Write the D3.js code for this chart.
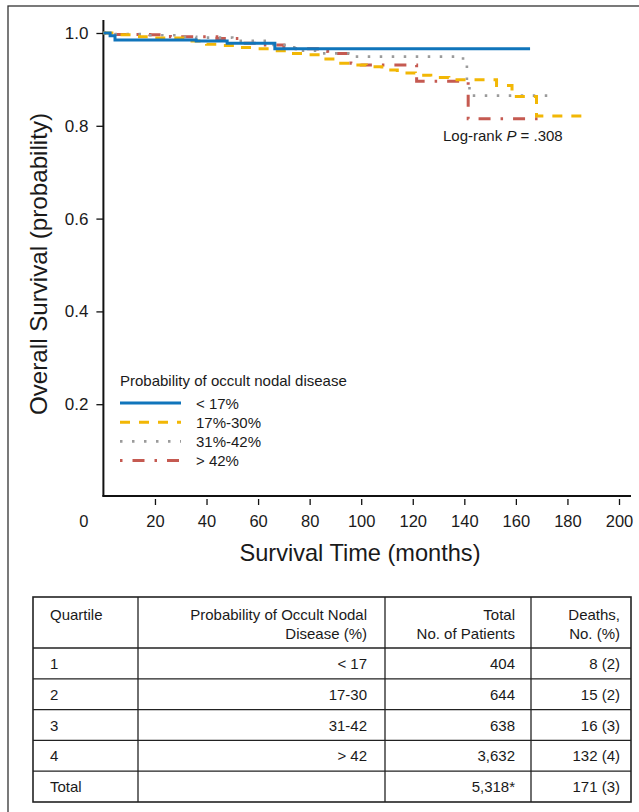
<!DOCTYPE html>
<html>
<head>
<meta charset="utf-8">
<script src="https://d3js.org/d3.v7.min.js"></script>
<style>
  body { margin: 0; background: #fff; }
  svg text { font-family: "Liberation Sans", Arial, sans-serif; fill: #1a1a1a; }
  .narrow { font-family: "Liberation Sans Narrow", "Liberation Sans", sans-serif !important; }
</style>
</head>
<body>
<div id="chart"></div>
<script>
"use strict";

// Kaplan-Meier steps (months, survival probability)
var lt17Time = [0, 2.6, 4.5, 36, 48, 66.5, 165.5];
var lt17Surv = [1.0, 0.994, 0.985, 0.983, 0.978, 0.966, 0.966];

var q17to30Time = [0, 6, 14, 20, 33, 40, 46, 53, 60, 66, 73, 79, 85, 90, 97, 102, 108, 114, 121, 127, 134, 152.5, 158.5, 168, 188];
var q17to30Surv = [1.0, 0.996, 0.992, 0.989, 0.983, 0.976, 0.973, 0.969, 0.966, 0.962, 0.956, 0.953, 0.944, 0.935, 0.931, 0.927, 0.920, 0.914, 0.909, 0.904, 0.899, 0.887, 0.863, 0.821, 0.821];

var q31to42Time = [0, 2, 16, 31, 36, 50, 66, 73, 76, 84, 95, 139.5, 141, 142, 174.5];
var q31to42Surv = [1.0, 0.998, 0.995, 0.992, 0.990, 0.983, 0.974, 0.969, 0.962, 0.956, 0.949, 0.930, 0.885, 0.865, 0.865];

var gt42Time = [0, 4, 18, 26, 44, 55, 62, 70, 83, 87, 96, 100, 121.5, 141.5, 169.5];
var gt42Surv = [1.0, 0.997, 0.996, 0.992, 0.988, 0.978, 0.974, 0.966, 0.960, 0.956, 0.935, 0.931, 0.896, 0.815, 0.815];

var seriesNames = ["< 17%", "17%-30%", "31%-42%", "> 42%"];
var xTicks = [0, 20, 40, 60, 80, 100, 120, 140, 160, 180, 200];
var yTicks = [0.2, 0.4, 0.6, 0.8, 1.0];

// table
var tableHeader = [["Quartile"], ["Probability of Occult Nodal", "Disease (%)"], ["Total", "No. of Patients"], ["Deaths,", "No. (%)"]];
var quartiles = ["1", "2", "3", "4", "Total"];
var probRange = ["< 17", "17-30", "31-42", "> 42", ""];
var totalPatients = ["404", "644", "638", "3,632", "5,318*"];
var deaths = ["8 (2)", "15 (2)", "16 (3)", "132 (4)", "171 (3)"];

var W = 639, H = 812;
var svg = d3.select("#chart").append("svg").attr("width", W).attr("height", H);

// outer frame
svg.append("rect").attr("x", 8).attr("y", 6).attr("width", 660).attr("height", 830)
  .attr("fill", "none").attr("stroke", "#333").attr("stroke-width", 1.3);

var x = d3.scaleLinear().domain([0, 200]).range([103.4, 619]);
var y = d3.scaleLinear().domain([0, 1]).range([497, 33]);

var colorSet = d3.scaleOrdinal().domain(seriesNames)
  .range(["#1075bb", "#f2b705", "#9b9b9b", "#c55a51"]);
var dashSet = { "< 17%": null, "17%-30%": "10,9", "31%-42%": "2.5,9.5", "> 42%": "2.5,10,12,10" };
var widthSet = { "< 17%": 3, "17%-30%": 3, "31%-42%": 2.6, "> 42%": 3 };

// y axis
var yAxis = svg.append("g").attr("transform", "translate(" + x(0) + ",0)")
  .call(d3.axisLeft(y).tickValues(yTicks).tickFormat(d3.format(".1f")).tickSize(7).tickPadding(8));
yAxis.select(".domain").remove();
yAxis.selectAll(".tick line").attr("stroke", "#111").attr("stroke-width", 1.3);
yAxis.selectAll(".tick text").style("font-size", "17px").attr("fill", "#1a1a1a");
svg.append("line").attr("x1", x(0)).attr("x2", x(0)).attr("y1", 20).attr("y2", 496.5)
  .attr("stroke", "#111").attr("stroke-width", 2);

// x axis
var xAxis = svg.append("g").attr("transform", "translate(0,499)")
  .call(d3.axisBottom(x).tickValues(xTicks).tickFormat(d3.format("d")).tickSize(6).tickPadding(10));
xAxis.select(".domain").remove();
xAxis.selectAll(".tick line").attr("stroke", "#111").attr("stroke-width", 1.3)
  .filter(function(d) { return d === 0; }).remove();
xAxis.selectAll(".tick text").style("font-size", "16.5px").attr("fill", "#1a1a1a")
  .filter(function(d) { return d === 0; }).attr("dx", -20);
svg.append("line").attr("x1", x(0) - 1).attr("x2", 631).attr("y1", 496).attr("y2", 496)
  .attr("stroke", "#111").attr("stroke-width", 2);

// axis titles (condensed look, squeezed to the original width)
svg.append("text").attr("class", "narrow")
  .attr("transform", "translate(47,264) rotate(-90)")
  .attr("text-anchor", "middle").style("font-size", "24px")
  .attr("textLength", 302).attr("lengthAdjust", "spacingAndGlyphs")
  .text("Overall Survival (probability)");
svg.append("text").attr("class", "narrow")
  .attr("x", 360).attr("y", 561).attr("text-anchor", "middle").style("font-size", "24px")
  .attr("textLength", 241).attr("lengthAdjust", "spacingAndGlyphs")
  .text("Survival Time (months)");

// curves
var curves = [
  { name: seriesNames[0], t: lt17Time, s: lt17Surv },
  { name: seriesNames[1], t: q17to30Time, s: q17to30Surv },
  { name: seriesNames[2], t: q31to42Time, s: q31to42Surv },
  { name: seriesNames[3], t: gt42Time, s: gt42Surv }
];
var line = d3.line()
  .x(function(d) { return x(d[0]); })
  .y(function(d) { return y(d[1]); })
  .curve(d3.curveStepAfter);

// draw the solid blue last so it sits on top like the original
[3, 2, 1, 0].forEach(function(i) {
  var c = curves[i];
  svg.append("path")
    .datum(c.t.map(function(t, j) { return [t, c.s[j]]; }))
    .attr("d", line)
    .attr("fill", "none")
    .attr("stroke", colorSet(c.name))
    .attr("stroke-width", widthSet[c.name])
    .attr("stroke-dasharray", dashSet[c.name]);
});

// log-rank
var lr = svg.append("text").attr("x", 443).attr("y", 141).style("font-size", "15px");
lr.append("tspan").text("Log-rank ");
lr.append("tspan").style("font-style", "italic").text("P");
lr.append("tspan").text(" = .308");

// legend
svg.append("text").attr("x", 120).attr("y", 386).style("font-size", "15px")
  .text("Probability of occult nodal disease");
for (let i = 0; i < seriesNames.length; i++) {
  var ly = 403 + 19.2 * i;
  svg.append("line").attr("x1", 120).attr("x2", 181).attr("y1", ly).attr("y2", ly)
    .attr("stroke", colorSet(seriesNames[i]))
    .attr("stroke-width", widthSet[seriesNames[i]])
    .attr("stroke-dasharray", dashSet[seriesNames[i]]);
  svg.append("text").attr("x", 196).attr("y", ly + 5.5).style("font-size", "15px").text(seriesNames[i]);
}

// table
var colX = [33, 138, 385, 531, 631];
var tTop = 597, headBottom = 648, tBottom = 802;
var rowH = (tBottom - headBottom) / quartiles.length;
var tg = svg.append("g");
tg.append("rect").attr("x", colX[0]).attr("y", tTop).attr("width", colX[4] - colX[0]).attr("height", tBottom - tTop)
  .attr("fill", "none").attr("stroke", "#222").attr("stroke-width", 1.6);
colX.slice(1, 4).forEach(function(cx) {
  tg.append("line").attr("x1", cx).attr("x2", cx).attr("y1", tTop).attr("y2", tBottom)
    .attr("stroke", "#222").attr("stroke-width", 1.3);
});
for (let r = 0; r < quartiles.length; r++) {
  var yy = headBottom + r * rowH;
  tg.append("line").attr("x1", colX[0]).attr("x2", colX[4]).attr("y1", yy).attr("y2", yy)
    .attr("stroke", "#222").attr("stroke-width", 1.3);
}
var anchors = ["start", "end", "end", "end"];
var textX = [50, 367, 515, 620];
tableHeader.forEach(function(lines, c) {
  lines.forEach(function(l, k) {
    tg.append("text").attr("x", textX[c]).attr("y", 620 + k * 19)
      .attr("text-anchor", anchors[c]).style("font-size", "15px").text(l);
  });
});
var cols = [quartiles, probRange, totalPatients, deaths];
cols.forEach(function(col, c) {
  tg.selectAll(null).data(col).enter().append("text")
    .attr("x", textX[c])
    .attr("y", function(d, r) { return headBottom + r * rowH + rowH / 2 + 5.5; })
    .attr("text-anchor", anchors[c]).style("font-size", "15px")
    .text(function(d) { return d; });
});
</script>
</body>
</html>
